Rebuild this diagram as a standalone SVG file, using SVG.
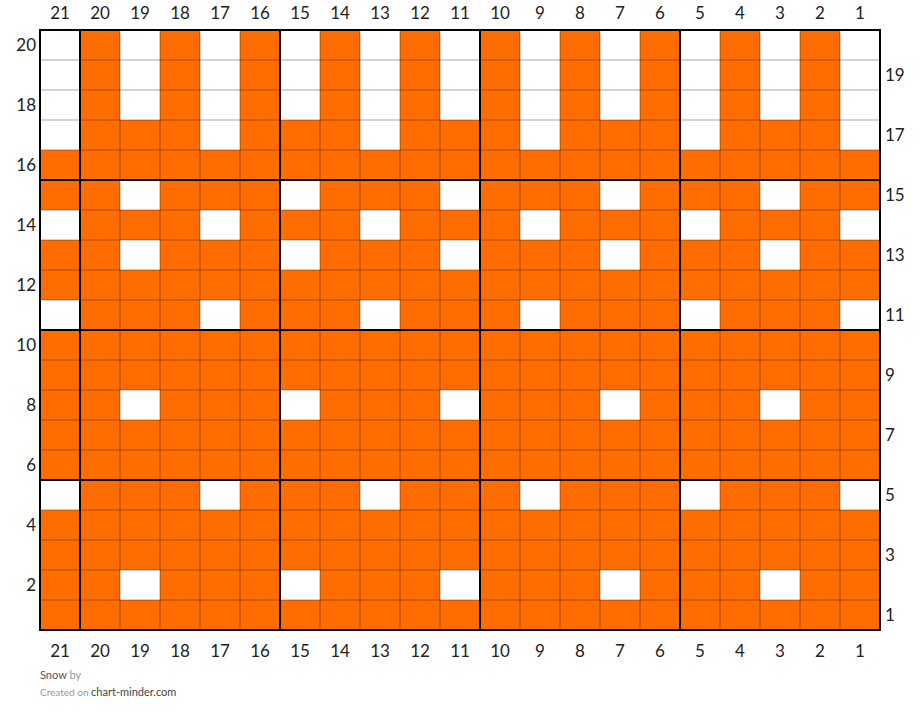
<svg xmlns="http://www.w3.org/2000/svg" xmlns:xlink="http://www.w3.org/1999/xlink" width="920" height="723" viewBox="0 0 920 723">
<style>
.num{font-family:Lato,"Liberation Sans",sans-serif;font-size:17px;fill:#222;}
.c{text-anchor:middle;}
.l{text-anchor:end;}
.r{text-anchor:start;}
.thin{stroke:#000;stroke-opacity:0.35;stroke-width:1;fill:none;}
.thick{stroke:#000;stroke-width:2;fill:none;}
.ft{font-family:Lato,"Liberation Sans",sans-serif;font-size:11px;}
.w{fill:#fff;}
</style>
<defs>
<g id="rowA"><rect class="w" x="40" y="0" width="40" height="30"/><rect class="w" x="200" y="0" width="40" height="30"/><rect class="w" x="360" y="0" width="40" height="30"/><rect class="w" x="520" y="0" width="40" height="30"/><rect class="w" x="680" y="0" width="40" height="30"/><rect class="w" x="840" y="0" width="40" height="30"/></g>
<g id="rowB"><rect class="w" x="120" y="0" width="40" height="30"/><rect class="w" x="280" y="0" width="40" height="30"/><rect class="w" x="440" y="0" width="40" height="30"/><rect class="w" x="600" y="0" width="40" height="30"/><rect class="w" x="760" y="0" width="40" height="30"/></g>
</defs>
<rect x="0" y="0" width="920" height="723" fill="#fff"/>
<g id="chart">
<rect x="40" y="30" width="840" height="600" fill="#ff6d00"/>
<use xlink:href="#rowA" y="30"/><use xlink:href="#rowA" y="60"/><use xlink:href="#rowA" y="90"/><use xlink:href="#rowA" y="120"/>
<use xlink:href="#rowB" y="30"/><use xlink:href="#rowB" y="60"/><use xlink:href="#rowB" y="90"/>
<use xlink:href="#rowB" y="180"/><use xlink:href="#rowA" y="210"/><use xlink:href="#rowB" y="240"/>
<use xlink:href="#rowA" y="300"/><use xlink:href="#rowB" y="390"/><use xlink:href="#rowA" y="480"/><use xlink:href="#rowB" y="570"/>
</g>
<g id="grid">
<path class="thin" d="M120 30V630M160 30V630M200 30V630M240 30V630M320 30V630M360 30V630M400 30V630M440 30V630M520 30V630M560 30V630M600 30V630M640 30V630M720 30V630M760 30V630M800 30V630M840 30V630M40 60H880M40 90H880M40 120H880M40 150H880M40 210H880M40 240H880M40 270H880M40 300H880M40 360H880M40 390H880M40 420H880M40 450H880M40 510H880M40 540H880M40 570H880M40 600H880"/>
<path class="thick" d="M40 30V630M80 30V630M280 30V630M480 30V630M680 30V630M880 30V630M39 30H881M39 180H881M39 330H881M39 480H881M39 630H881"/>
</g>
<g id="labels-top" class="num c">
<text x="60" y="19">21</text><text x="100" y="19">20</text><text x="140" y="19">19</text><text x="180" y="19">18</text><text x="220" y="19">17</text><text x="260" y="19">16</text><text x="300" y="19">15</text><text x="340" y="19">14</text><text x="380" y="19">13</text><text x="420" y="19">12</text><text x="460" y="19">11</text><text x="500" y="19">10</text><text x="540" y="19">9</text><text x="580" y="19">8</text><text x="620" y="19">7</text><text x="660" y="19">6</text><text x="700" y="19">5</text><text x="740" y="19">4</text><text x="780" y="19">3</text><text x="820" y="19">2</text><text x="860" y="19">1</text>
</g>
<g id="labels-bottom" class="num c">
<text x="60" y="657">21</text><text x="100" y="657">20</text><text x="140" y="657">19</text><text x="180" y="657">18</text><text x="220" y="657">17</text><text x="260" y="657">16</text><text x="300" y="657">15</text><text x="340" y="657">14</text><text x="380" y="657">13</text><text x="420" y="657">12</text><text x="460" y="657">11</text><text x="500" y="657">10</text><text x="540" y="657">9</text><text x="580" y="657">8</text><text x="620" y="657">7</text><text x="660" y="657">6</text><text x="700" y="657">5</text><text x="740" y="657">4</text><text x="780" y="657">3</text><text x="820" y="657">2</text><text x="860" y="657">1</text>
</g>
<g id="labels-left" class="num l">
<text x="36" y="51">20</text><text x="36" y="111">18</text><text x="36" y="171">16</text><text x="36" y="231">14</text><text x="36" y="291">12</text><text x="36" y="351">10</text><text x="36" y="411">8</text><text x="36" y="471">6</text><text x="36" y="531">4</text><text x="36" y="591">2</text>
</g>
<g id="labels-right" class="num r">
<text x="885" y="81">19</text><text x="885" y="141">17</text><text x="885" y="201">15</text><text x="885" y="261">13</text><text x="885" y="321">11</text><text x="885" y="381">9</text><text x="885" y="441">7</text><text x="885" y="501">5</text><text x="885" y="561">3</text><text x="885" y="621">1</text>
</g>
<g id="footer">
<text class="ft" x="40" y="679"><tspan fill="#555">Snow</tspan><tspan fill="#999"> by</tspan></text>
<text class="ft" x="40" y="696" font-size="10"><tspan fill="#999" font-size="10">Created on </tspan><tspan fill="#444">chart-minder.com</tspan></text>
</g>
</svg>
